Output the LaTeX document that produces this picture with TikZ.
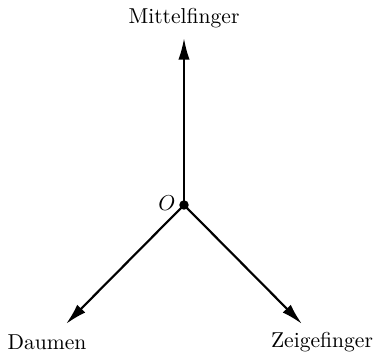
\documentclass[tikz,border=0pt]{standalone}
\usepackage{amsmath}
\usetikzlibrary{arrows.meta}

\begin{document}
\begin{tikzpicture}[
  x=0.0163cm,y=0.0163cm,
  line width=1pt,
  % the three fingers of the right-hand rule
  finger/.style={-{Latex[length=10pt,width=5.2pt]},line width=1pt},
  lbl/.style={font=\normalsize},
]

%--- geometry ----------------------------------------------------------------
\def\ox{184}       % origin, x
\def\oy{147}       % origin, y
\def\uptip{314}    % tip of the middle finger
\def\dx{118}       % horizontal reach of the lower fingers
\def\dy{119}       % vertical drop of the lower fingers

\useasboundingbox (0,0) rectangle (373,352);

\coordinate (O) at (\ox,\oy);
\coordinate (mtip) at (\ox,\uptip);
\coordinate (dtip) at (\ox-\dx,\oy-\dy);
\coordinate (ztip) at (\ox+\dx,\oy-\dy);

%--- the fingers -------------------------------------------------------------
\draw[finger] (O) -- (mtip);
\draw[finger] (O) -- (dtip);
\draw[finger] (O) -- (ztip);
\fill (O) circle (2.2pt);

%--- labels ------------------------------------------------------------------
\node[lbl] (mittel) at (184,334) {Mittelfinger};
\node[lbl] (daumen) at (47,10) {Daumen};
\node[lbl] (zeige) at (322,10) {Zeigefinger};
\node[lbl] (olbl) at (167,149) {$O$};

\end{tikzpicture}
\end{document}
